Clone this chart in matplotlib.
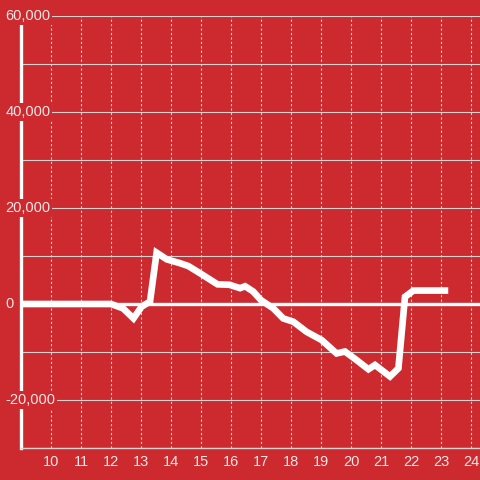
import matplotlib
matplotlib.use("Agg")
import matplotlib.pyplot as plt
from matplotlib.ticker import MultipleLocator

plt.rcParams["font.family"] = ["Liberation Sans", "DejaVu Sans"]

BG = "#cc2a2f"
LIGHT = "#f3e6e6"
GRID = "#d9d0d0"

# hour of day vs. value
hours = [9, 12.0, 12.4, 12.75, 13.02, 13.3, 13.52, 13.86, 14.3, 14.58, 14.97,
         15.55, 15.95, 16.3, 16.47, 16.74, 17.0, 17.41, 17.74, 18.08, 18.52,
         19.02, 19.52, 19.8, 20.19, 20.58, 20.8, 21.3, 21.58, 21.8, 22.08, 23.13]
values = [0, 0, -900, -3000, -550, 500, 10700, 9300, 8500, 7900, 6400,
          4100, 4000, 3300, 3700, 2600, 800, -900, -3000, -3700, -5800,
          -7500, -10300, -9900, -11700, -13600, -12700, -15100, -13400, 1500, 2800, 2800]

x_ticks = list(range(10, 25))
y_ticks = [-20000, 0, 20000, 40000, 60000]
y_labels = ["-20,000", "0", "20,000", "40,000", "60,000"]

fig = plt.figure(figsize=(4.8, 4.8), dpi=100, facecolor=BG)
ax = fig.add_axes([21 / 480, 32 / 480, 459 / 480, 432 / 480])
ax.set_facecolor(BG)

ax.set_xlim(9, 9 + 459 / 30)
ax.set_ylim(-30000, 60000)

# grid
ax.yaxis.set_major_locator(MultipleLocator(10000))
ax.grid(which="major", axis="y", color=GRID, linewidth=0.8, linestyle="-")
ax.set_xticks(x_ticks)
ax.grid(which="major", axis="x", color=GRID, linewidth=0.8, linestyle=(0, (2, 2)))
ax.set_axisbelow(True)

ax.axhline(0, color="white", linewidth=2.4, zorder=2)
ax.plot(hours, values, color="white", linewidth=4.8, solid_joinstyle="miter", zorder=3)

for side in ["top", "right"]:
    ax.spines[side].set_visible(False)
ax.spines["left"].set_color("white")
ax.spines["left"].set_linewidth(2.4)
ax.spines["left"].set_zorder(2.5)
ax.spines["bottom"].set_color(GRID)
ax.spines["bottom"].set_linewidth(1.0)

ax.set_yticklabels([])
ax.tick_params(axis="y", which="both", length=0)
ax.tick_params(axis="x", which="both", length=0, pad=5, labelsize=10.5, labelcolor=LIGHT)

# y labels sit over the axis line with a background box
for val, lab in zip(y_ticks, y_labels):
    ax.annotate(lab, xy=(0, val), xycoords=("axes fraction", "data"),
                xytext=(-11, 0), textcoords="offset points",
                ha="left", va="center", fontsize=10.5, color=LIGHT,
                bbox=dict(facecolor=BG, edgecolor="none", pad=1.2),
                annotation_clip=False, zorder=6)

fig.savefig("out.png", dpi=100, facecolor=BG)
